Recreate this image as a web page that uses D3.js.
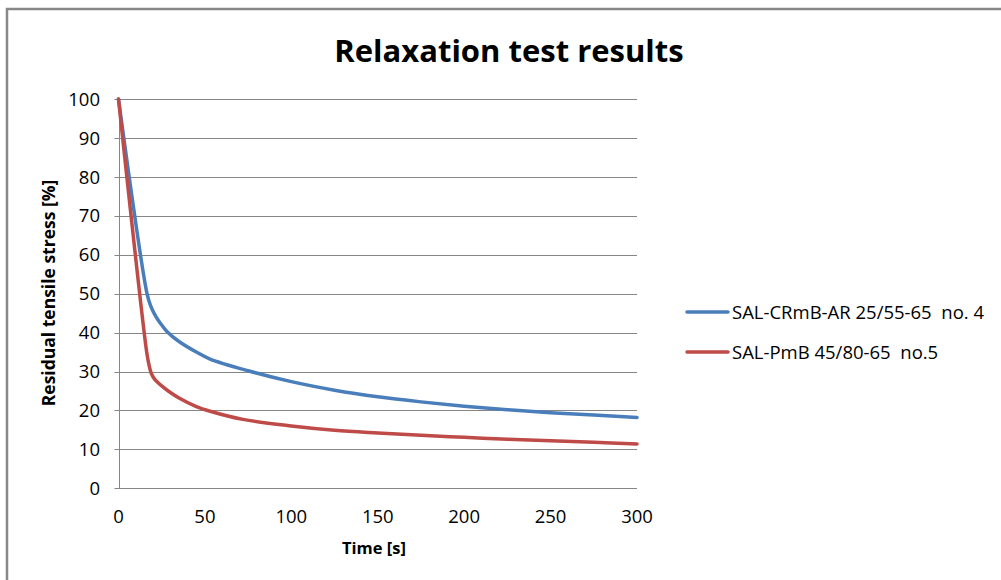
<!DOCTYPE html>
<html lang="en">
<head>
    <meta charset="UTF-8">
    <title>Relaxation test results</title>
    <style>
        body {
            margin: 0;
            padding: 0;
            background: #fff;
            font-family: "Open Sans", Arial, sans-serif;
        }
        svg text {
            white-space: pre;
        }
    </style>
    <script src="https://d3js.org/d3.v7.min.js"></script>
</head>
<body>
<svg id="chart" width="1001" height="580"></svg>

<script>
    // values
    const blueTime = [0, 16.5, 18.5, 21, 24, 28, 35, 45, 53, 75, 100, 125, 150, 175, 200, 225, 250, 275, 300];
    const blueStress = [100, 50, 47, 44.6, 42.5, 40.3, 37.7, 35, 33.2, 30.2, 27.4, 25.2, 23.5, 22.2, 21.1, 20.2, 19.4, 18.8, 18.2];
    const redTime = [0, 16, 17.5, 19, 21, 25, 30, 35, 45, 53, 72, 100, 125, 150, 175, 200, 225, 250, 275, 300];
    const redStress = [100, 36, 32, 29.5, 28, 26.3, 24.6, 23.2, 21, 19.8, 17.7, 16, 14.9, 14.2, 13.6, 13.1, 12.6, 12.2, 11.8, 11.4];

    const xTicks = [0, 50, 100, 150, 200, 250, 300];
    const yTicks = [0, 10, 20, 30, 40, 50, 60, 70, 80, 90, 100];

    const seriesNames = ['SAL-CRmB-AR 25/55-65  no. 4', 'SAL-PmB 45/80-65  no.5'];
    const seriesColors = ['#4a7ebb', '#be4b48'];

    const svg = d3.select('#chart');

    // outer frame (only top and left edges are visible)
    svg.append('path')
        .attr('d', 'M7,580 L7,9 L1001,9')
        .attr('fill', 'none')
        .attr('stroke', '#888')
        .attr('stroke-width', 2.5);

    const x = d3.scaleLinear().domain([0, 300]).range([118.5, 637]);
    const y = d3.scaleLinear().domain([0, 100]).range([488.3, 99]);

    // gridlines
    svg.append('g')
        .selectAll('line')
        .data(yTicks)
        .join('line')
        .attr('x1', x(0) - 4)
        .attr('x2', x(300))
        .attr('y1', d => Math.round(y(d)) + 0.5)
        .attr('y2', d => Math.round(y(d)) + 0.5)
        .attr('stroke', '#868686')
        .attr('stroke-width', 1);

    // left axis line
    svg.append('line')
        .attr('x1', Math.round(x(0)) + 0.5)
        .attr('x2', Math.round(x(0)) + 0.5)
        .attr('y1', Math.round(y(100)))
        .attr('y2', Math.round(y(0)) + 1)
        .attr('stroke', '#868686');

    // y tick labels
    svg.append('g')
        .selectAll('text')
        .data(yTicks)
        .join('text')
        .attr('x', 100)
        .attr('y', d => y(d))
        .attr('dy', '0.36em')
        .attr('text-anchor', 'end')
        .attr('font-size', 18.5)
        .attr('fill', '#000')
        .text(d => d);

    // x tick labels
    svg.append('g')
        .selectAll('text')
        .data(xTicks)
        .join('text')
        .attr('x', d => x(d))
        .attr('y', 523)
        .attr('text-anchor', 'middle')
        .attr('font-size', 18.5)
        .attr('fill', '#000')
        .text(d => d);

    // lines
    const line = d3.line()
        .x(d => x(d[0]))
        .y(d => y(d[1]))
        .curve(d3.curveCatmullRom.alpha(0.5));

    const blueData = d3.zip(blueTime, blueStress);
    const redData = d3.zip(redTime, redStress);

    [blueData, redData].forEach((data, i) => {
        svg.append('path')
            .datum(data)
            .attr('d', line)
            .attr('fill', 'none')
            .attr('stroke', seriesColors[i])
            .attr('stroke-width', 3.5)
            .attr('stroke-linejoin', 'round')
            .attr('stroke-linecap', 'round');
    });

    // titles
    svg.append('text')
        .attr('x', 509)
        .attr('y', 62)
        .attr('text-anchor', 'middle')
        .attr('font-size', 31)
        .attr('font-weight', 'bold')
        .text('Relaxation test results');

    svg.append('text')
        .attr('x', 374)
        .attr('y', 554)
        .attr('text-anchor', 'middle')
        .attr('font-size', 16.5)
        .attr('font-weight', 'bold')
        .text('Time [s]');

    svg.append('text')
        .attr('transform', 'translate(55,293) rotate(-90)')
        .attr('text-anchor', 'middle')
        .attr('font-size', 17.5)
        .attr('font-weight', 'bold')
        .text('Residual tensile stress [%]');

    // legend
    const legend = svg.append('g');
    seriesNames.forEach((name, i) => {
        const ly = 312 + i * 40;
        legend.append('line')
            .attr('x1', 687).attr('x2', 728)
            .attr('y1', ly).attr('y2', ly)
            .attr('stroke', seriesColors[i])
            .attr('stroke-width', 3.5)
            .attr('stroke-linecap', 'round');
        legend.append('text')
            .attr('x', 732)
            .attr('y', ly)
            .attr('dy', '0.36em')
            .attr('font-size', 18.5)
            .text(name);
    });
</script>
</body>
</html>
